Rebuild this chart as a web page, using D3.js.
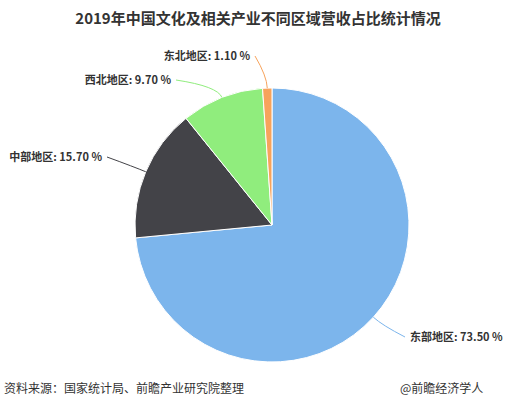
<!DOCTYPE html><html><head><meta charset="utf-8">
<script src="https://d3js.org/d3.v7.min.js"></script>
<style>body{margin:0;background:#fff}</style></head><body>
<script>
const categories=["东部地区","中部地区","西北地区","东北地区"];
const values=[73.5,15.7,9.7,1.1];
const labels=["东部地区: 73.50 %","中部地区: 15.70 %","西北地区: 9.70 %","东北地区: 1.10 %"];
const colors=["#7cb5ec","#434348","#90ed7d","#f7a35c"];
const W=516,H=407,cx=272,cy=225,R=137;
const svg=d3.select("body").append("svg").attr("width",W).attr("height",H)
 .style("font-family","'Noto Sans CJK SC',sans-serif");
svg.append("text").attr("x",W/2).attr("y",24).attr("text-anchor","middle")
 .attr("font-size",15).attr("font-weight","bold").attr("fill","#333").text("2019年中国文化及相关产业不同区域营收占比统计情况");
const pie=d3.pie().sort(null).value(d=>d)(values);
const arc=d3.arc().innerRadius(0).outerRadius(R);
const g=svg.append("g").attr("transform",`translate(${cx},${cy})`);
g.selectAll("path").data(pie).join("path").attr("d",arc)
 .attr("fill",(d,i)=>colors[i]).attr("stroke","#fff").attr("stroke-width",1);
// label positions (anchor end/start, x,y)
const lp=[{x:410,y:341,a:"start"},{x:102,y:161,a:"end"},{x:171,y:84,a:"end"},{x:250,y:60,a:"end"}];
pie.forEach((d,i)=>{
 const m=(d.startAngle+d.endAngle)/2;
 const px=cx+Math.sin(m)*R, py=cy-Math.cos(m)*R;
 const p=lp[i];
 const lx=p.a=="start"?p.x-5:p.x+5;
 const ex=cx+Math.sin(m)*(R+12), ey=cy-Math.cos(m)*(R+12);
 svg.append("path").attr("d",`M${lx},${p.y-4}Q${ex},${ey} ${px},${py}`)
  .attr("fill","none").attr("stroke",colors[i]).attr("stroke-width",1);
 svg.append("text").attr("x",p.x).attr("y",p.y).attr("text-anchor",p.a)
  .attr("font-size",11).attr("font-weight","bold").attr("fill","#333").text(labels[i]);
});
svg.append("text").attr("x",4).attr("y",393).attr("font-size",12).attr("fill","#333").text("资料来源：国家统计局、前瞻产业研究院整理");
svg.append("text").attr("x",400).attr("y",393).attr("font-size",12).attr("fill","#333").text("@前瞻经济学人");
</script></body></html>
